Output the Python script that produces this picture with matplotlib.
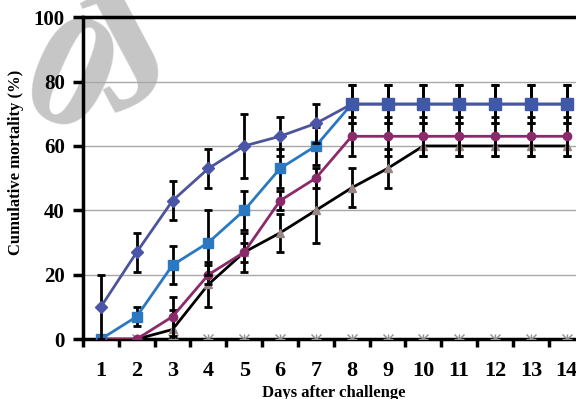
import numpy as np
import matplotlib.pyplot as plt

plt.rcParams["font.family"] = ["Liberation Serif", "DejaVu Serif"]
plt.rcParams["font.weight"] = "bold"

days = np.arange(1, 15)
day_labels = [str(d) for d in days]

grp_a = [10, 27, 43, 53, 60, 63, 67, 73, 73, 73, 73, 73, 73, 73]
err_a = [10, 6, 6, 6, 10, 6, 6, 6, 6, 6, 6, 6, 6, 6]

grp_b = [0, 7, 23, 30, 40, 53, 60, 73, 73, 73, 73, 73, 73, 73]
err_b = [0, 3, 6, 10, 6, 6, 6, 6, 6, 6, 6, 6, 6, 6]

grp_c = [0, 0, 7, 20, 27, 43, 50, 63, 63, 63, 63, 63, 63, 63]
err_c = [0, 0, 6, 3, 3, 3, 3, 6, 6, 6, 6, 6, 6, 6]

grp_d = [0, 0, 3, 17, 27, 33, 40, 47, 53, 60, 60, 60, 60, 60]
err_d = [0, 0, 6, 7, 6, 6, 10, 6, 6, 3, 3, 3, 3, 3]

grp_ctrl = [0] * 14

fig = plt.figure(figsize=(5.76, 3.99), dpi=100)
ax = fig.add_axes([0.144, 0.150, 0.871, 0.807])
ax.set_facecolor("none")

# watermark behind the plot
fig.text(0.115, 0.785, "0", fontsize=118, rotation=-24, color="#c6c6c6",
         ha="center", va="center", fontweight="bold", zorder=-1)
fig.text(0.218, 0.86, "J", fontsize=125, rotation=28, color="#c6c6c6",
         ha="center", va="center", fontweight="bold", zorder=-1)

ax.set_axisbelow(True)
ax.grid(axis="y", color="#a8a8a8", lw=1)

ax.plot(days, grp_ctrl, ls="none", marker="x", ms=7, mew=1, color="#909090", zorder=3)
ax.plot(days, grp_ctrl, ls="none", marker="+", ms=7, mew=1, color="#909090", zorder=3)

ebkw = dict(ecolor="black", elinewidth=2, capsize=3, capthick=2)
ax.errorbar(days, grp_d, yerr=err_d, color="black", lw=2, marker="^", ms=6,
            mfc="#9a8585", mec="#9a8585", zorder=4, **ebkw)
ax.errorbar(days, grp_c, yerr=err_c, color="#8b2a6b", lw=2, marker="o", ms=6,
            zorder=5, **ebkw)
ax.errorbar(days, grp_b, yerr=err_b, color="#2a78c2", lw=2, marker="s", ms=7,
            zorder=6, **ebkw)
ax.errorbar(days, grp_a, yerr=err_a, color="#4c5599", lw=2, marker="D", ms=6,
            mfc="#4a55a8", mec="#4a55a8", zorder=7, **ebkw)
ax.plot(days[7:], grp_b[7:], ls="none", marker="s", ms=8, color="#3f58a8", zorder=8)

ax.text(14.27, 64, "*", fontsize=10, va="center", ha="left")
ax.text(14.27, 60, "*", fontsize=10, va="center", ha="left")

ax.set_xlim(0.5, 14.5)
ax.set_ylim(0, 100)
ax.set_xticks(days)
ax.set_xticklabels(day_labels)
ax.set_xticks(np.arange(0.5, 15, 1), minor=True)
ax.set_yticks([0, 20, 40, 60, 80, 100])
ax.tick_params(axis="x", which="major", length=0, labelsize=16, pad=16)
ax.tick_params(axis="x", which="minor", length=6, width=2.5, direction="out")
ax.tick_params(axis="y", length=7, width=2.5, labelsize=15, pad=6)

for s in ["left", "bottom", "top"]:
    ax.spines[s].set_linewidth(2.5)
ax.spines["right"].set_visible(False)

ax.set_ylabel("Cumulative mortality (%)", fontsize=12, fontweight="bold")
ax.yaxis.set_label_coords(-0.118, 0.55)
ax.set_xlabel("Days after challenge", fontsize=12, fontweight="bold")
ax.xaxis.set_label_coords(0.5, -0.143)

fig.savefig("out.png", dpi=100)
